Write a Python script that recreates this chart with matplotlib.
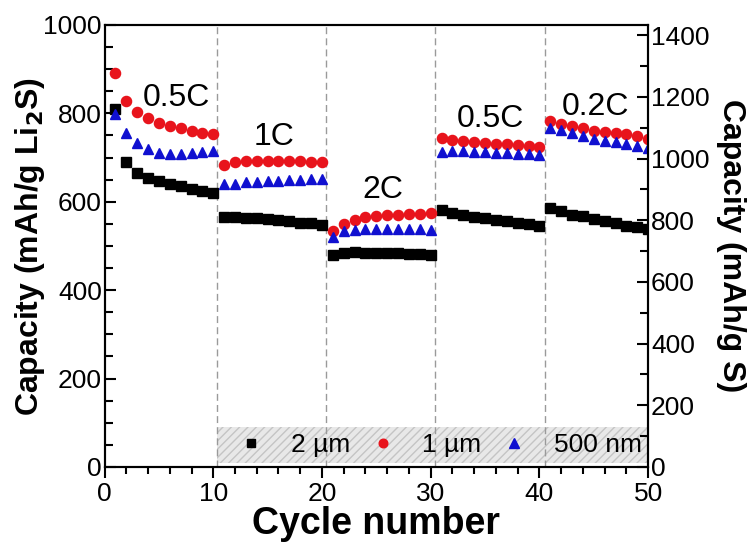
import matplotlib
matplotlib.use("Agg")
import matplotlib.pyplot as plt
from matplotlib.patches import Rectangle
from matplotlib.ticker import MultipleLocator

plt.rcParams['font.family'] = ['Liberation Sans', 'DejaVu Sans']

cycles = list(range(1, 51))
cap_2um = [809, 690, 665, 653, 647, 641, 635, 629, 624, 619,
           566, 565, 564, 563, 561, 558, 556, 553, 551, 548,
           480, 485, 486, 485, 485, 484, 483, 482, 481, 480,
           581, 574, 570, 565, 563, 559, 556, 552, 549, 546,
           585, 579, 571, 567, 561, 557, 552, 546, 544, 539]
cap_1um = [892, 829, 804, 789, 779, 771, 766, 761, 756, 753,
           684, 690, 692, 692, 692, 692, 692, 692, 691, 691,
           533, 550, 559, 565, 568, 570, 571, 572, 573, 574,
           745, 740, 737, 735, 733, 731, 730, 728, 726, 724,
           782, 776, 771, 766, 761, 758, 756, 753, 748, 742]
cap_500nm = [799, 755, 732, 719, 711, 708, 708, 710, 712, 714,
             641, 640, 644, 645, 647, 648, 649, 650, 651, 652,
             521, 533, 537, 538, 538, 538, 538, 538, 538, 537,
             713, 714, 714, 713, 712, 711, 710, 709, 708, 706,
             768, 762, 755, 748, 743, 738, 735, 730, 727, 722]
series_labels = ['2 µm', '1 µm', '500 nm']
rate_labels = ['0.5C', '1C', '2C', '0.5C', '0.2C']
rate_label_x = [6.6, 15.6, 25.6, 35.5, 45.2]
rate_label_y = [835, 747, 627, 787, 815]
boundaries = [10.3, 20.4, 30.4, 40.5]
right_ticks = [0, 200, 400, 600, 800, 1000, 1200, 1400]

fig = plt.figure(figsize=(7.56, 5.47), dpi=100)
ax = fig.add_axes([0.1383, 0.1463, 0.7190, 0.8080])
ax2 = ax.twinx()

ax.add_patch(Rectangle((10.3, 10), 39.7, 80, facecolor='#e8e8e8',
                       edgecolor='#c4c4c4', hatch='////', lw=0, zorder=0))
for b in boundaries:
    ax.axvline(b, color='#9a9a9a', lw=1.0, ls=(0, (5, 3)), zorder=1)

h1, = ax.plot(cycles, cap_2um, 's', color='black', ms=6.5, ls='none', zorder=3, label=series_labels[0])
h2, = ax.plot(cycles, cap_1um, 'o', color='#e8141c', ms=7.3, ls='none', zorder=3, label=series_labels[1])
h3, = ax.plot(cycles, cap_500nm, '^', color='#1010d0', ms=7.8, ls='none', zorder=3, label=series_labels[2])

for t, x, y in zip(rate_labels, rate_label_x, rate_label_y):
    ax.text(x, y, t, fontsize=23, ha='center', va='center', zorder=4)

ax.set_xlim(0, 50)
ax.set_ylim(0, 1000)
ax2.set_ylim(0, 1433)
ax.xaxis.set_major_locator(MultipleLocator(10))
ax.xaxis.set_minor_locator(MultipleLocator(2))
ax.yaxis.set_major_locator(MultipleLocator(200))
ax.yaxis.set_minor_locator(MultipleLocator(50))
ax2.set_yticks(right_ticks)
ax2.yaxis.set_minor_locator(MultipleLocator(100))

ax.tick_params(axis='x', which='major', direction='out', length=8, width=1.5, labelsize=19, pad=3)
ax.tick_params(axis='x', which='minor', direction='out', length=5, width=1.5)
ax.tick_params(axis='y', which='major', direction='in', length=8, width=1.5, labelsize=19, pad=2)
ax.tick_params(axis='y', which='minor', direction='in', length=6, width=1.5)
ax2.tick_params(axis='y', which='major', direction='in', length=8, width=1.5, labelsize=19, pad=2)
ax2.tick_params(axis='y', which='minor', direction='in', length=6, width=1.5)
for a in (ax, ax2):
    for s in a.spines.values():
        s.set_linewidth(1.5)

ax.set_xlabel('Cycle number', fontsize=27, fontweight='bold', labelpad=0)
ax.set_ylabel('Capacity (mAh/g Li$_\\mathbf{2}$S)', fontsize=23, fontweight='bold', labelpad=-3)
ax2.set_ylabel('Capacity (mAh/g S)', fontsize=23, fontweight='bold', rotation=270, labelpad=26)

leg = ax.legend(handles=[h1, h2, h3], loc='center', bbox_to_anchor=(0.617, 0.05), ncol=3,
                frameon=False, fontsize=19, handlelength=1.0, handletextpad=1.0,
                columnspacing=0.75, markerscale=0.85)

fig.savefig('out.png', dpi=100)
